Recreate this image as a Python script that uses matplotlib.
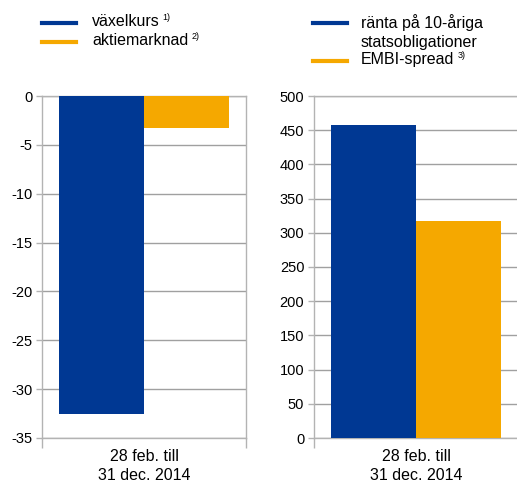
import matplotlib
matplotlib.use("Agg")
import matplotlib.pyplot as plt
from matplotlib.lines import Line2D

plt.rcParams['font.family'] = ['Liberation Sans', 'DejaVu Sans']

# data
kategori = ["28 feb. till\n31 dec. 2014"]
serier_vanster = ["växelkurs", "aktiemarknad"]
fotnot_vanster = ["1)", "2)"]
varden_vanster = [-32.5, -3.3]
serier_hoger = ["ränta på 10-åriga\nstatsobligationer", "EMBI-spread"]
fotnot_hoger = ["", "3)"]
varden_hoger = [458, 317]
farger = ["#003893", "#F5A800"]

W, H = 517, 482
fig = plt.figure(figsize=(W / 100, H / 100), dpi=100)

grid_col = "#a0a0a0"
spine_col = "#b3b3b3"


def ax_px(x0, y0, x1, y1):
    return fig.add_axes([x0 / W, 1 - y1 / H, (x1 - x0) / W, (y1 - y0) / H])


def rita(ax, varden, ylim, yticks):
    pos = [-0.25, 0.25]
    ax.bar(pos, varden, width=0.5, color=farger, zorder=3)
    ax.set_xlim(-0.6, 0.6)
    ax.set_ylim(*ylim)
    ax.set_yticks(yticks)
    ax.set_yticklabels([f"{v:g}" for v in yticks], fontsize=10.5)
    ax.yaxis.grid(True, color=grid_col, linewidth=1, zorder=0)
    ax.set_xticks([0])
    ax.set_xticklabels(kategori, fontsize=11.5, linespacing=1.3)
    ax.tick_params(axis='x', length=0, pad=8)
    ax.set_xticks([-0.6, 0.6], minor=True)
    ax.tick_params(axis='x', which='minor', length=7, color=spine_col, width=1)
    ax.tick_params(axis='y', length=4, color=spine_col, width=1, pad=3)
    for s in ax.spines.values():
        s.set_color(spine_col)
        s.set_linewidth(1)


ax1 = ax_px(42, 96, 246, 438)
rita(ax1, varden_vanster, (-35, 0), list(range(-35, 1, 5)))

ax2 = ax_px(314, 96, 518, 438)
rita(ax2, varden_hoger, (0, 500), list(range(0, 501, 50)))

# legender
renderer = fig.canvas.get_renderer()


def legend(x_line, x_text, ys, namn, noter):
    for i, (y, n, f) in enumerate(zip(ys, namn, noter)):
        fig.add_artist(Line2D([x_line / W, (x_line + 34) / W], [1 - y / H, 1 - y / H],
                              color=farger[i], linewidth=3))
        t = fig.text(x_text / W, 1 - (y - 9) / H, n, fontsize=11.5, va='top', ha='left',
                     linespacing=1.3)
        if f:
            bb = t.get_window_extent(renderer=renderer)
            fig.text(bb.x1 / W + 3 / W, 1 - (y - 10) / H, f, fontsize=6.5,
                     va='top', ha='left')


legend(42, 92, [23, 42], serier_vanster, fotnot_vanster)
legend(313, 361, [23, 61], serier_hoger, fotnot_hoger)

fig.savefig("out.png", dpi=100)
